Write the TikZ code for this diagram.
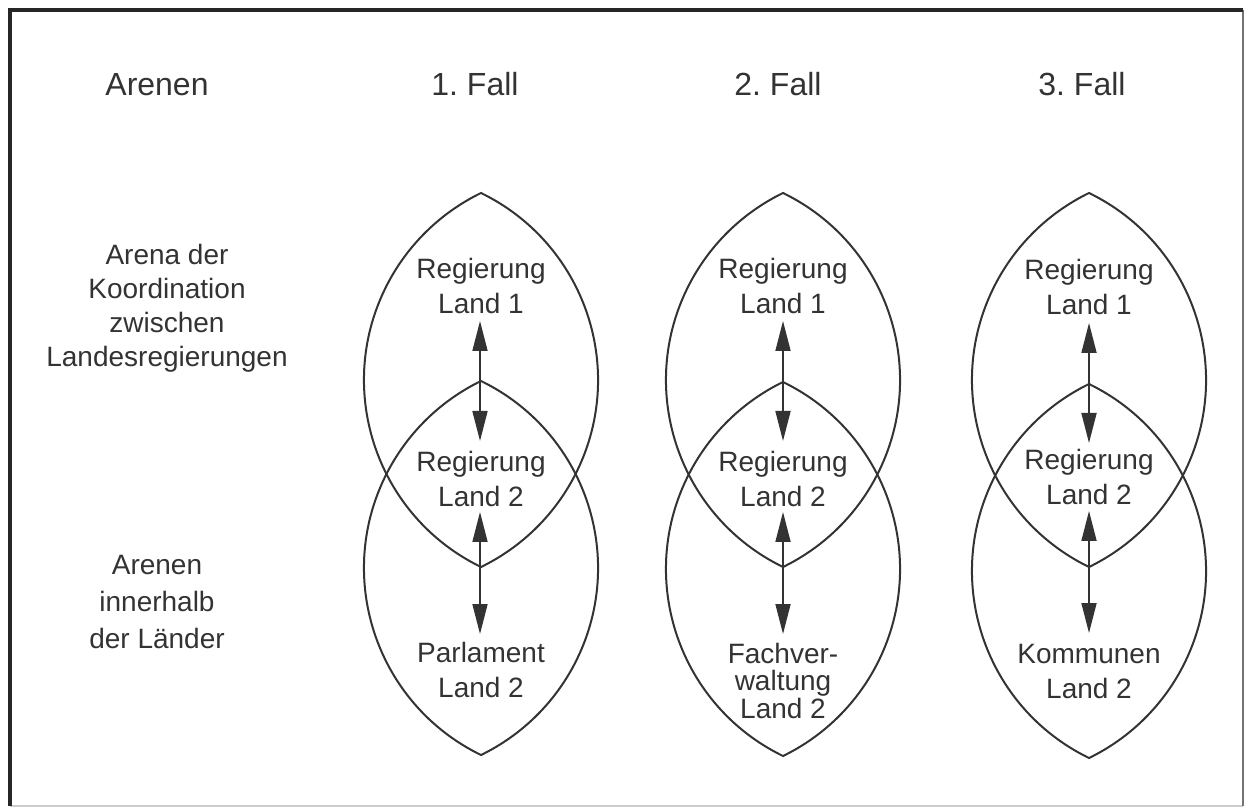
\documentclass[tikz,border=0pt]{standalone}
\usepackage{fontspec}
\setmainfont{Liberation Sans}
\usetikzlibrary{arrows.meta}
\definecolor{ink}{HTML}{333333}
\frenchspacing
\tikzset{
  lensline/.style={draw=ink, line width=2pt},
  lbl/.style={text=ink, font=\fontsize{28}{35}\selectfont, align=center, anchor=base, inner sep=0pt},
  head/.style={text=ink, font=\fontsize{32}{38}\selectfont, anchor=base, inner sep=0pt},
  dbl/.style={draw=ink, line width=1.7pt, {Triangle[length=30pt,width=15pt]}-{Triangle[length=30pt,width=15pt]}}
}
\newcommand\lensat[2]{\draw[lensline] (#1,#2+187) arc[start angle=64.07,end angle=-64.07,radius=207.94] arc[start angle=244.07,end angle=115.93,radius=207.94] -- cycle;}
\begin{document}
\begin{tikzpicture}[x=1pt,y=1pt]
\useasboundingbox (0,0) rectangle (1247,809);
\fill[white] (0,0) rectangle (1247,809);
% frame
\draw[line width=1.5pt, black!20] (10,3) -- (1243,3);
\draw[line width=2pt, black!55] (1243,3) -- (1243,799);
\draw[line width=3.5pt, black!85] (10,3) -- (10,799) -- (1243,799);

% headers
\node[head] (hA) at (157,713) {Arenen};
\node[head] (h1) at (475,713) {1. Fall};
\node[head] (h2) at (778,713) {2. Fall};
\node[head] (h3) at (1082,713) {3. Fall};

% left labels (anchor = baseline of last line)
\node[lbl, font=\fontsize{28}{34}\selectfont] (la) at (167,442) {Arena der\\Koordination\\zwischen\\Landesregierungen};
\node[lbl, font=\fontsize{28}{36.5}\selectfont] (lb) at (157,161) {Arenen\\innerhalb\\der Länder};

% lenses
\lensat{481}{429}
\lensat{481}{241}
\lensat{783}{429}
\lensat{783}{240}
\lensat{1089}{429}
\lensat{1089}{238}

% case 1
\node[lbl] (t1) at (481,495) {Regierung\\Land 1};
\node[lbl] (m1) at (481,302) {Regierung\\Land 2};
\node[lbl] (b1) at (481,112) {Parlament\\Land 2};
\coordinate (a1u) at (480,488);
\coordinate (a1m) at (480,368);
\coordinate (a1n) at (480,297);
\coordinate (a1b) at (480,175);
\draw[dbl] (a1u) -- (a1m);
\draw[dbl] (a1n) -- (a1b);

% case 2
\node[lbl] (t2) at (783,495) {Regierung\\Land 1};
\node[lbl] (m2) at (783,302) {Regierung\\Land 2};
\node[lbl, font=\fontsize{28}{27.5}\selectfont] (b2) at (783,91) {Fachver-\\waltung\\Land 2};
\coordinate (a2u) at (783,488);
\coordinate (a2m) at (783,368);
\coordinate (a2n) at (783,297);
\coordinate (a2b) at (783,175);
\draw[dbl] (a2u) -- (a2m);
\draw[dbl] (a2n) -- (a2b);

% case 3
\node[lbl] (t3) at (1089,494) {Regierung\\Land 1};
\node[lbl] (m3) at (1089,304) {Regierung\\Land 2};
\node[lbl] (b3) at (1089,111) {Kommunen\\Land 2};
\coordinate (a3u) at (1089,486);
\coordinate (a3m) at (1089,366);
\coordinate (a3n) at (1089,298);
\coordinate (a3b) at (1089,176);
\draw[dbl] (a3u) -- (a3m);
\draw[dbl] (a3n) -- (a3b);
\end{tikzpicture}
\end{document}
